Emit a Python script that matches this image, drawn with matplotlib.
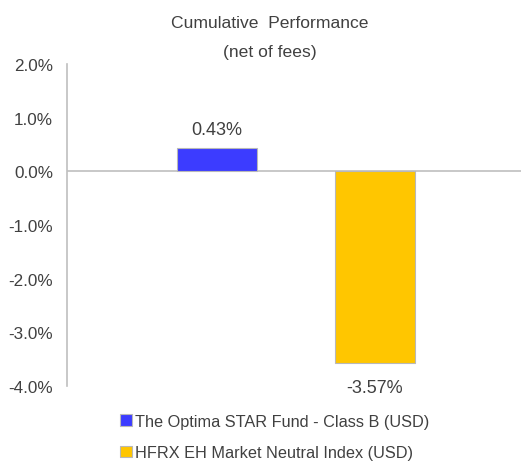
import matplotlib
matplotlib.use("Agg")
import matplotlib.pyplot as plt
from matplotlib.patches import Patch

plt.rcParams['font.family'] = ['Liberation Sans', 'DejaVu Sans']

series = ["The Optima STAR Fund - Class B (USD)", "HFRX EH Market Neutral Index (USD)"]
values = [0.43, -3.57]
colors = ["#3C3CFF", "#FFC600"]
value_labels = ["0.43%", "-3.57%"]
yticks = [2.0, 1.0, 0.0, -1.0, -2.0, -3.0, -4.0]
ytick_labels = ["2.0%", "1.0%", "0.0%", "-1.0%", "-2.0%", "-3.0%", "-4.0%"]
title_lines = ["Cumulative  Performance", "(net of fees)"]

TXT = "#404040"
fig = plt.figure(figsize=(5.21, 4.64), dpi=100)
ax = fig.add_axes([67/521, 77/464, (521-67)/521, (387-65)/464])

x = [0, 1]
ax.bar(x, values, width=0.51, color=colors, edgecolor="#B8B8B8", linewidth=0.8, zorder=3)
ax.set_xlim(-0.949, 1.924)
ax.set_ylim(-4.0, 2.0)
ax.axhline(0, color="#BFBFBF", linewidth=1.2, zorder=2)

for xi, v, lab in zip(x, values, value_labels):
    off = 13.5 if v >= 0 else -17.5
    ax.annotate(lab, (xi, v), xytext=(0, off), textcoords="offset points",
                ha="center", va="center", fontsize=13, color=TXT)

ax.set_yticks(yticks)
ax.set_yticklabels(ytick_labels, fontsize=12.3, color=TXT)
ax.tick_params(axis="y", length=0, pad=10)
ax.set_xticks([])
for s in ["top", "right", "bottom"]:
    ax.spines[s].set_visible(False)
ax.spines["left"].set_color("#BFBFBF")
ax.spines["left"].set_linewidth(1.2)

fig.text(270/521, 1 - 23/464, title_lines[0], ha="center", va="center", fontsize=12.6, color=TXT)
fig.text(270/521, 1 - 53/464, title_lines[1], ha="center", va="center", fontsize=12.6, color=TXT)

handles = [Patch(facecolor=c, edgecolor="#B8B8B8", linewidth=0.8) for c in colors]
fig.legend(handles, series, loc="center left", bbox_to_anchor=(120/521, 1 - 438/464),
           frameon=False, fontsize=11.7, handlelength=0.74, handleheight=0.74,
           handletextpad=0.2, labelspacing=1.0, borderaxespad=0, borderpad=0,
           labelcolor=TXT)

fig.savefig("out.png", dpi=100)
